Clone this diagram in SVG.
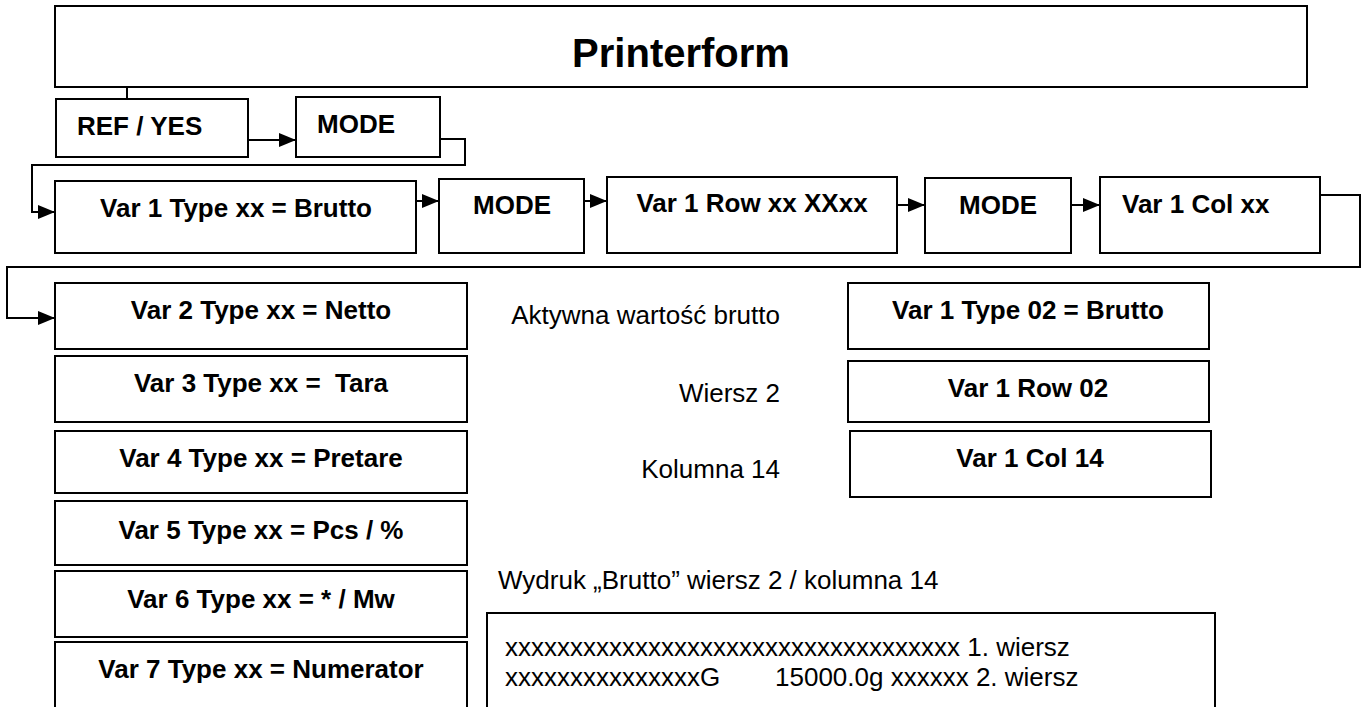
<svg xmlns="http://www.w3.org/2000/svg" width="1368" height="707" viewBox="0 0 1368 707">
<style>
  .box { fill: #fff; stroke: #000; stroke-width: 2; }
  .lbl { font-family: "Liberation Sans", Arial, sans-serif; font-weight: bold; font-size: 26px; fill: #000; }
  .c { text-anchor: middle; }
  .txt { font-family: "Liberation Sans", Arial, sans-serif; font-size: 26px; fill: #000; }
  .big { font-family: "Liberation Sans", Arial, sans-serif; font-size: 26px; fill: #000; }
  .title { font-family: "Liberation Sans", Arial, sans-serif; font-weight: bold; font-size: 40px; text-anchor: middle; fill: #000; }
  .conn { fill: none; stroke: #000; stroke-width: 2; }
</style>
<defs>
  <marker id="arr" markerUnits="userSpaceOnUse" markerWidth="18" markerHeight="16" refX="17" refY="7" orient="auto">
    <path d="M0,0 L17,7 L0,14 Z" fill="#000"/>
  </marker>
</defs>
<rect width="1368" height="707" fill="#fff"/>

<g id="connectors">
  <path class="conn" d="M127,87 V99"/>
  <path class="conn" d="M248,140 H296" marker-end="url(#arr)"/>
  <path class="conn" d="M440,139 H465 V165 H32 V212 H55" marker-end="url(#arr)"/>
  <path class="conn" d="M416,201 H439" marker-end="url(#arr)"/>
  <path class="conn" d="M584,201 H607" marker-end="url(#arr)"/>
  <path class="conn" d="M897,205 H925" marker-end="url(#arr)"/>
  <path class="conn" d="M1071,205 H1100" marker-end="url(#arr)"/>
  <path class="conn" d="M1320,195 H1360 V267 H7 V318 H55" marker-end="url(#arr)"/>
</g>

<g id="title">
  <rect class="box" x="55" y="6" width="1252" height="81"/>
  <text class="title" x="681" y="67">Printerform</text>
</g>

<g id="refyes">
  <rect class="box" x="56" y="99" width="192" height="58"/>
  <text class="lbl" x="77" y="135">REF / YES</text>
</g>
<g id="mode1">
  <rect class="box" x="296" y="97" width="144" height="60"/>
  <text class="lbl" x="317" y="133">MODE</text>
</g>

<g id="var1type">
  <rect class="box" x="55" y="181" width="361" height="72"/>
  <text class="lbl c" x="236" y="217">Var 1 Type xx = Brutto</text>
</g>
<g id="mode2">
  <rect class="box" x="439" y="179" width="145" height="74"/>
  <text class="lbl c" x="512" y="214">MODE</text>
</g>
<g id="var1row">
  <rect class="box" x="607" y="177" width="290" height="76"/>
  <text class="lbl c" x="752" y="212">Var 1 Row xx XXxx</text>
</g>
<g id="mode3">
  <rect class="box" x="925" y="178" width="146" height="75"/>
  <text class="lbl c" x="998" y="214">MODE</text>
</g>
<g id="var1col">
  <rect class="box" x="1100" y="177" width="220" height="76"/>
  <text class="lbl" x="1122" y="213">Var 1 Col xx</text>
</g>

<g id="var2">
  <rect class="box" x="55" y="283" width="412" height="66"/>
  <text class="lbl c" x="261" y="319">Var 2 Type xx = Netto</text>
</g>
<g id="var3">
  <rect class="box" x="55" y="356" width="412" height="66"/>
  <text class="lbl c" x="261" y="392" xml:space="preserve">Var 3 Type xx =  Tara</text>
</g>
<g id="var4">
  <rect class="box" x="55" y="431" width="412" height="62"/>
  <text class="lbl c" x="261" y="467">Var 4 Type xx = Pretare</text>
</g>
<g id="var5">
  <rect class="box" x="55" y="501" width="412" height="64"/>
  <text class="lbl c" x="261" y="539">Var 5 Type xx = Pcs / %</text>
</g>
<g id="var6">
  <rect class="box" x="55" y="571" width="412" height="66"/>
  <text class="lbl c" x="261" y="608">Var 6 Type xx = * / Mw</text>
</g>
<g id="var7">
  <rect class="box" x="55" y="642" width="412" height="80"/>
  <text class="lbl c" x="261" y="678">Var 7 Type xx = Numerator</text>
</g>

<g id="ex-type">
  <text class="txt" x="780" y="324" text-anchor="end">Aktywna wartość brutto</text>
  <rect class="box" x="848" y="283" width="361" height="66"/>
  <text class="lbl c" x="1028" y="319">Var 1 Type 02 = Brutto</text>
</g>
<g id="ex-row">
  <text class="txt" x="780" y="402" text-anchor="end">Wiersz 2</text>
  <rect class="box" x="848" y="361" width="361" height="61"/>
  <text class="lbl c" x="1028" y="397">Var 1 Row 02</text>
</g>
<g id="ex-col">
  <text class="txt" x="780" y="478" text-anchor="end">Kolumna 14</text>
  <rect class="box" x="850" y="431" width="361" height="66"/>
  <text class="lbl c" x="1030" y="467">Var 1 Col 14</text>
</g>

<g id="printout">
  <text class="txt" x="498" y="589">Wydruk „Brutto” wiersz 2 / kolumna 14</text>
  <rect class="box" x="487" y="613" width="728" height="110"/>
  <text class="big" x="505" y="656">xxxxxxxxxxxxxxxxxxxxxxxxxxxxxxxxxxx 1. wiersz</text>
  <text class="big" y="686"><tspan x="505">xxxxxxxxxxxxxxxG</tspan><tspan x="775">15000.0g xxxxxx 2. wiersz</tspan></text>
</g>
</svg>
